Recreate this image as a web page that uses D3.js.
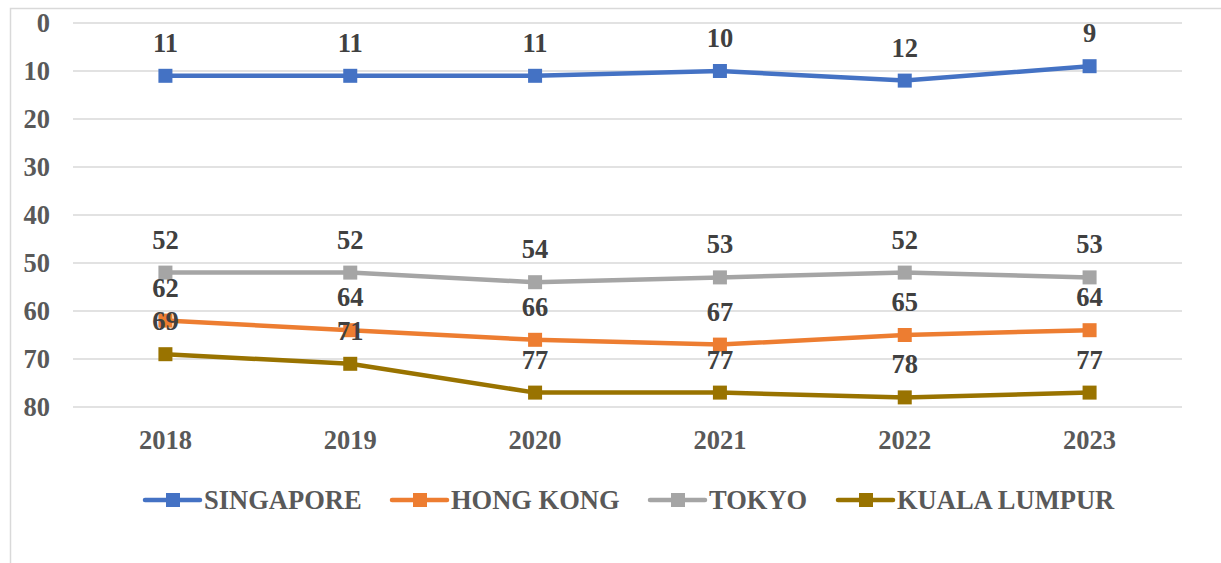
<!DOCTYPE html>
<html>
<head>
<meta charset="utf-8">
<script src="https://cdn.jsdelivr.net/npm/d3@7"></script>
<style>
  body { margin: 0; background: #fff; }
</style>
</head>
<body>
<svg id="chart" width="1221" height="563"></svg>
<script>
// data
var years = ["2018", "2019", "2020", "2021", "2022", "2023"];
var yTicks = [0, 10, 20, 30, 40, 50, 60, 70, 80];
var seriesNames = ["SINGAPORE", "HONG KONG", "TOKYO", "KUALA LUMPUR"];
var singapore = [11, 11, 11, 10, 12, 9];
var hongKong = [62, 64, 66, 67, 65, 64];
var tokyo = [52, 52, 54, 53, 52, 53];
var kualaLumpur = [69, 71, 77, 77, 78, 77];
var colors = ["#4472C4", "#ED7D31", "#A5A5A5", "#997300"];

var series = [singapore, hongKong, tokyo, kualaLumpur].map(function(vals, i) {
    return { name: seriesNames[i], color: colors[i], values: vals };
});

var svg = d3.select("#chart")
    .attr("font-family", "'Liberation Serif', 'Times New Roman', Times, serif")
    .attr("font-weight", "bold");
var fontSize = 26.5;

// chart frame
svg.append("rect")
    .attr("x", 10.5).attr("y", 8.5)
    .attr("width", 1400).attr("height", 700)
    .attr("fill", "none").attr("stroke", "#D9D9D9").attr("stroke-width", 1.5);

var plotLeft = 73, plotRight = 1182, plotTop = 23, plotBottom = 407;

var x = d3.scalePoint().domain(years).range([plotLeft, plotRight]).padding(0.5);
// inverted ranking axis: 0 at top
var y = d3.scaleLinear().domain([0, 80]).range([plotTop, plotBottom]);

// gridlines
svg.append("g").selectAll("line").data(yTicks).join("line")
    .attr("x1", plotLeft).attr("x2", plotRight)
    .attr("y1", function(d) { return y(d); })
    .attr("y2", function(d) { return y(d); })
    .attr("stroke", "#D9D9D9").attr("stroke-width", 1.5);

// y axis labels
svg.append("g").selectAll("text").data(yTicks).join("text")
    .attr("x", 50).attr("y", function(d) { return y(d); })
    .attr("dy", "0.34em")
    .attr("text-anchor", "end")
    .attr("font-size", fontSize).attr("fill", "#595959")
    .text(function(d) { return d; });

// x axis labels
svg.append("g").selectAll("text").data(years).join("text")
    .attr("x", function(d) { return x(d); }).attr("y", 449)
    .attr("text-anchor", "middle")
    .attr("font-size", fontSize).attr("fill", "#595959")
    .text(function(d) { return d; });

var line = d3.line()
    .x(function(d, i) { return x(years[i]); })
    .y(function(d) { return y(d); });

var plots = svg.append("g").selectAll("g").data(series).join("g");

plots.append("path")
    .attr("d", function(s) { return line(s.values); })
    .attr("fill", "none")
    .attr("stroke", function(s) { return s.color; })
    .attr("stroke-width", 4.5)
    .attr("stroke-linejoin", "round");

plots.selectAll("rect").data(function(s) {
        return s.values.map(function(v, i) { return { v: v, i: i, color: s.color }; });
    }).join("rect")
    .attr("x", function(d) { return x(years[d.i]) - 7; })
    .attr("y", function(d) { return y(d.v) - 7; })
    .attr("width", 14).attr("height", 14)
    .attr("fill", function(d) { return d.color; });

// data labels
var labels = svg.append("g");
series.forEach(function(s) {
    labels.selectAll(null).data(s.values).join("text")
        .attr("x", function(d, i) { return x(years[i]); })
        .attr("y", function(d) { return y(d) - 24; })
        .attr("text-anchor", "middle")
        .attr("font-size", fontSize).attr("fill", "#404040")
        .text(function(d) { return d; });
});

// legend
var legendX = [145, 392, 650, 838];
var legend = svg.append("g").selectAll("g").data(series).join("g")
    .attr("transform", function(d, i) { return "translate(" + legendX[i] + ",500)"; });

legend.append("line")
    .attr("x1", 0).attr("x2", 55)
    .attr("stroke", function(d) { return d.color; })
    .attr("stroke-width", 4.5).attr("stroke-linecap", "round");
legend.append("rect")
    .attr("x", 21).attr("y", -7).attr("width", 14).attr("height", 14)
    .attr("fill", function(d) { return d.color; });
legend.append("text")
    .attr("x", 59).attr("dy", "0.34em")
    .attr("font-size", fontSize).attr("fill", "#595959")
    .text(function(d) { return d.name; });
</script>
</body>
</html>
